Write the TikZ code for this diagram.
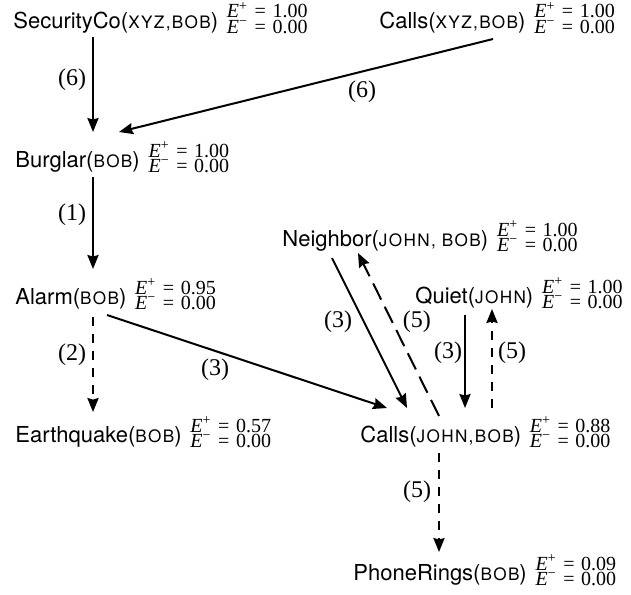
\documentclass[tikz,border=0pt]{standalone}
\usepackage{fontspec}
\setmainfont{Liberation Serif}
\newfontfamily\hvfont{TeX Gyre Heros}
\newfontfamily\hvscfont{TeX Gyre Heros}[Scale=0.78,LetterSpace=8]
\usetikzlibrary{arrows.meta,calc}
\newcommand\cst[1]{{\hvscfont #1}}
\newcommand\evline[2]{\textit{E}\textsuperscript{#1}\hspace{3.3pt}=\hspace{3.3pt}#2}
\newcommand\minussign{\symbol{"2212}}
\tikzset{
  pred/.style={anchor=base west,inner sep=0pt,font=\fontsize{11}{13}\selectfont\hvfont},
  evp/.style={anchor=base west,inner sep=0pt,text depth=0pt,font=\fontsize{10}{12}\selectfont},
  evm/.style={anchor=base west,inner sep=0pt,text height=6.5pt,font=\fontsize{10}{12}\selectfont},
  lbl/.style={inner sep=0pt,font=\fontsize{12}{14}\selectfont},
  conn/.style={line width=1pt,-{Stealth[length=7pt,width=5.6pt,inset=0.8pt]}},
  vdash/.style={dash pattern=on 4.7pt off 3.8pt},
  ddash/.style={dash pattern=on 9pt off 4pt},
}
\newcommand\prednode[5]{%
  \node[pred] (#1) at (#2) {#3};
  \node[evp] (#1p) at ($(#1.base east)+(8,-10)$) {\evline{+}{#4}};
  \node[evm] (#1m) at ($(#1.base east)+(8,5)$) {\evline{\minussign}{#5}};
}
\begin{document}
\begin{tikzpicture}[x=0.5pt,y=-0.5pt]
\useasboundingbox (0,0) rectangle (631,594);
\prednode{sc}{13,28}{SecurityCo(\cst{XYZ,BOB})}{1.00}{0.00}
\prednode{cx}{379,28}{Calls(\cst{XYZ,BOB})}{1.00}{0.00}
\prednode{bu}{15,167}{Burglar(\cst{BOB})}{1.00}{0.00}
\prednode{al}{15,304}{Alarm(\cst{BOB})}{0.95}{0.00}
\prednode{eq}{15,442}{Earthquake(\cst{BOB})}{0.57}{0.00}
\prednode{nb}{282,246}{Neighbor(\cst{JOHN, BOB})}{1.00}{0.00}
\prednode{qu}{415,303}{Quiet(\cst{JOHN})}{1.00}{0.00}
\prednode{cj}{360,442}{Calls(\cst{JOHN,BOB})}{0.88}{0.00}
\prednode{pr}{353,580}{PhoneRings(\cst{BOB})}{0.09}{0.00}

\draw[conn] ($(sc.base west)+(80,9)$) -- ($(bu.base west)+(78,-35)$)
  node[lbl,pos=0.45,xshift=-10.5pt] (l1) {(6)};
\draw[conn] ($(cx.base west)+(114,11)$) -- ($(bu.base west)+(104,-35)$)
  node[lbl,pos=0.35,yshift=-10pt] (l2) {(6)};
\draw[conn] ($(bu.base west)+(78,10)$) -- ($(al.base west)+(78,-35)$)
  node[lbl,pos=0.41,xshift=-10.5pt] (l3) {(1)};
\draw[conn,vdash] ($(al.base west)+(78,13)$) -- ($(eq.base west)+(78,-30)$)
  node[lbl,pos=0.4,xshift=-10.5pt] (l4) {(2)};
\draw[conn] ($(al.base west)+(92,11)$) -- ($(cj.base west)+(27,-34)$)
  node[lbl,pos=0.386,yshift=-9.5pt] (l5) {(3)};
\draw[conn] ($(nb.base west)+(50,12)$) -- ($(cj.base west)+(47,-34)$)
  node[lbl,pos=0.427,xshift=-13pt] (l6) {(3)};
\draw[conn,ddash] ($(cj.base west)+(79,-26)$) -- ($(nb.base west)+(76,7)$)
  node[lbl,pos=0.577,xshift=12.3pt] (l7) {(5)};
\draw[conn] ($(qu.base west)+(50,12)$) -- ($(cj.base west)+(105,-34)$)
  node[lbl,pos=0.41,xshift=-8.5pt] (l8) {(3)};
\draw[conn,vdash] ($(cj.base west)+(132,-34)$) -- ($(qu.base west)+(77,6)$)
  node[lbl,pos=0.556,xshift=10pt] (l9) {(5)};
\draw[conn,vdash] ($(cj.base west)+(79,11)$) -- ($(pr.base west)+(86,-28)$)
  node[lbl,pos=0.39,xshift=-11pt] (l10) {(5)};
\end{tikzpicture}
\end{document}
